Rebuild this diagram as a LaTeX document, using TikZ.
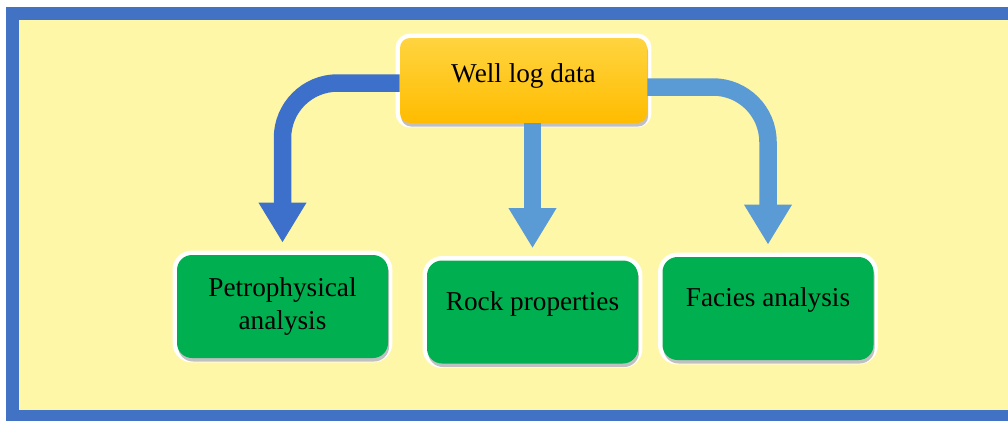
\documentclass[tikz,border=0pt]{standalone}
\usepackage{fontspec}
\setmainfont{Liberation Serif}
\usetikzlibrary{arrows.meta,shadows}
\definecolor{frameblue}{RGB}{66,114,196}
\definecolor{paleyellow}{RGB}{255,247,168}
\definecolor{goldbox}{RGB}{255,188,0}
\definecolor{goldtop}{RGB}{255,212,64}
\definecolor{boxgreen}{RGB}{0,176,80}
\definecolor{arrowdark}{RGB}{60,112,202}
\definecolor{arrowlight}{RGB}{91,155,213}

\begin{document}
\begin{tikzpicture}[font=\fontsize{15.5}{19}\selectfont,
	glow/.style={preaction={draw=white, line width=5pt}},
	boxshadow/.style={drop shadow={shadow xshift=0.6pt, shadow yshift=-2pt, opacity=0.35, fill=black!70}},
	databox/.style={glow, boxshadow, rounded corners=0.2cm, top color=goldtop, bottom color=goldbox,
		minimum width=4.94cm, minimum height=1.70cm, text depth=8pt},
	taskbox/.style={glow, boxshadow, rounded corners=0.3cm, fill=boxgreen,
		minimum width=4.22cm, minimum height=2.06cm, align=center},
	flowarrow/.style={line width=0.35cm, -{Triangle[width=0.9cm,length=0.8cm]},
		rounded corners=1.1cm, shorten >=0.24cm}]
	\useasboundingbox (0,0) rectangle (20.16,8.42);

	% --- Cadre ---
	\fill[frameblue] (0.12,0) rectangle (20.16,8.28);
	\fill[paleyellow] (0.38,0.22) rectangle (20.16,8.02);

	% --- Boites ---
	\node[databox] (wld) at (10.47,6.81) {Well log data};
	\node[taskbox] (petro) at (5.65,2.29) {Petrophysical\\analysis};
	\node[taskbox, text depth=12.7pt] (rock) at (10.65,2.18) {Rock properties};
	\node[taskbox, text depth=12.7pt] (facies) at (15.36,2.25) {Facies analysis};

	% --- Fleches ---
	\draw[flowarrow, arrowdark] ([yshift=-0.05cm]wld.west) -| (petro.north);
	\draw[flowarrow, arrowlight] (rock.north |- wld.south) -- (rock.north);
	\draw[flowarrow, arrowlight] ([yshift=-0.13cm]wld.east) -| (facies.north);
\end{tikzpicture}
\end{document}
